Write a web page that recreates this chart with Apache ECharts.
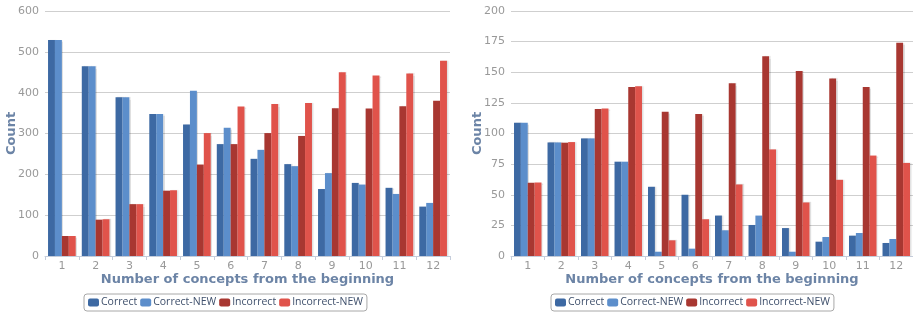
<!DOCTYPE html>
<html><head><meta charset="utf-8">
<script src="https://cdn.jsdelivr.net/npm/echarts@6/dist/echarts.min.js"></script>
<style>html,body{margin:0;padding:0;background:#fff}#c{width:913px;height:315px}</style>
</head><body><div id="c"></div>
<script>
const categories = ['1','2','3','4','5','6','7','8','9','10','11','12'];
const seriesNames = ['Correct','Correct-NEW','Incorrect','Incorrect-NEW'];
const colors = ['#3d69a3','#5c8ecb','#a83731','#e0534b'];

const leftCorrect      = [529,465,389,348,322,274,238,225,164,179,167,121];
const leftCorrectNew   = [529,465,389,348,405,314,260,220,203,175,152,130];
const leftIncorrect    = [49,89,127,160,224,274,301,294,362,361,367,380];
const leftIncorrectNew = [49,90,127,161,301,366,372,375,450,442,447,478];

const rightCorrect      = [108.7,92.7,96,77,56.5,50,33,25.3,22.8,11.7,16.6,10.6];
const rightCorrectNew   = [108.7,92.7,96,77,3.5,6,21,33,3.5,15.5,18.8,13.9];
const rightIncorrect    = [59.8,92.5,120,138,117.7,116,141,163,151,145,138,174];
const rightIncorrectNew = [60,93,120.4,138.6,12.8,30,58.4,87,43.7,62.2,82,76];

const leftData = [leftCorrect, leftCorrectNew, leftIncorrect, leftIncorrectNew];
const rightData = [rightCorrect, rightCorrectNew, rightIncorrect, rightIncorrectNew];

const font = 'DejaVu Sans';
function xAxis(gi){
  return {
    type:'category', gridIndex:gi, data:categories,
    name:'Number of concepts from the beginning', nameLocation:'middle', nameGap:17,
    nameMoveOverlap:false,
    nameTextStyle:{fontFamily:font,fontWeight:'bold',fontSize:13,color:'#6c84a6'},
    axisLine:{lineStyle:{color:'#c5cddb'}},
    axisTick:{show:true,length:4,lineStyle:{color:'#c5cddb'}},
    axisLabel:{fontFamily:font,fontSize:11,color:'#999',margin:5}
  };
}
function yAxis(gi,max,interval,gap){
  return {
    type:'value', gridIndex:gi, min:0, max:max, interval:interval,
    name:'Count', nameLocation:'middle', nameGap:gap,
    nameMoveOverlap:false,
    nameTextStyle:{fontFamily:font,fontWeight:'bold',fontSize:13,color:'#6c84a6'},
    axisLine:{show:false}, axisTick:{show:false},
    axisLabel:{fontFamily:font,fontSize:11,color:'#999',margin:6},
    splitLine:{lineStyle:{color:'#cfcfcf'}}
  };
}
function legend(left){
  return {
    data:seriesNames, top:294, left:left,
    orient:'horizontal', itemWidth:11, itemHeight:8, itemGap:3,
    icon:'roundRect',
    borderColor:'#a8a8a8', borderWidth:1, borderRadius:3, padding:[3,4],
    textStyle:{fontFamily:'Open Sans',fontSize:10.5,color:'#3e4f6b',padding:[0,0,0,-3]}
  };
}
const series = [];
[leftData,rightData].forEach((dataset,gi)=>{
  dataset.forEach((d,i)=>{
    series.push({
      name:seriesNames[i], type:'bar', xAxisIndex:gi, yAxisIndex:gi, data:d,
      barGap:'0%', barCategoryGap:'18%',
      itemStyle:{color:colors[i], shadowColor:'rgba(0,0,0,0.12)', shadowOffsetX:1.5, shadowBlur:1},
      animation:false
    });
  });
});
const chart = echarts.init(document.getElementById('c'));
chart.setOption({
  color:colors,
  animation:false,
  grid:[
    {left:45, right:463, top:11, bottom:59},
    {left:511, right:-3, top:11, bottom:59}
  ],
  xAxis:[xAxis(0), xAxis(1)],
  yAxis:[yAxis(0,600,100,27), yAxis(1,200,25,27)],
  legend:[legend(84), legend(551)],
  series:series
});
</script></body></html>
